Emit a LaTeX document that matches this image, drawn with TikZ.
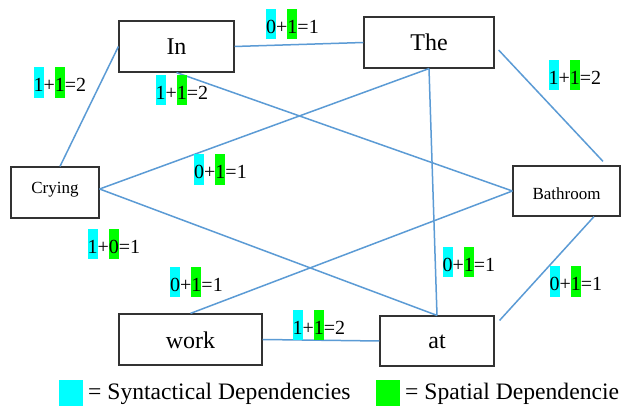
\documentclass[tikz,border=0pt]{standalone}
\usepackage{fontspec}
\setmainfont{Liberation Serif}
\usetikzlibrary{calc}
\definecolor{edgeblue}{RGB}{91,155,213}
\definecolor{boxgray}{RGB}{50,50,50}
\definecolor{hlcyan}{RGB}{0,255,255}
\definecolor{hlgreen}{RGB}{0,255,0}
\newcommand\hlbox[2]{{\setlength\fboxsep{0pt}\colorbox{#1}{\rule[-5.7pt]{0pt}{30.3pt}#2}}}
\newcommand\deplab[3]{\hlbox{hlcyan}{#1}+\hlbox{hlgreen}{#2}=#3}
\begin{document}
\begin{tikzpicture}[x=1pt,y=1pt,
  wordbox/.style={draw=boxgray,line width=1.2pt,rectangle,inner sep=0pt,text depth=0pt},
  bigword/.style={wordbox,font=\fontsize{24}{28}\selectfont},
  smallword/.style={wordbox,font=\fontsize{17}{20}\selectfont},
  link/.style={draw=edgeblue,line width=1.5pt},
  deplabel/.style={anchor=base west,inner sep=0pt,font=\fontsize{20}{24}\selectfont},
  legendtext/.style={anchor=base west,inner sep=0pt,font=\fontsize{23.6}{27}\selectfont}]
\useasboundingbox (0,0) rectangle (621,406);
\fill[white] (0,0) rectangle (621,406);
\clip (0,0) rectangle (621,406);

% word boxes
\node[bigword,minimum width=115pt,minimum height=51pt,text height=17pt] (In) at (176.5,359.5) {In};
\node[bigword,minimum width=130pt,minimum height=51pt,text height=17pt] (The) at (429,363.5) {The};
\node[smallword,minimum width=88pt,minimum height=51pt,text height=1.6pt] (Crying) at (55,213.5) {Crying};
\node[smallword,minimum width=107pt,minimum height=50pt,text height=18pt] (Bathroom) at (566.5,215) {Bathroom};
\node[bigword,minimum width=143pt,minimum height=51pt,text height=17.6pt] (work) at (190.5,66.5) {work};
\node[bigword,minimum width=114pt,minimum height=50pt,text height=14.6pt] (at) at (437,65) {at};

\coordinate (cr) at ([yshift=3.5pt]Crying.east);
\coordinate (theR) at ([shift={(4pt,-7.5pt)}]The.east);
\coordinate (bathT) at ([shift={(36.5pt,4pt)}]Bathroom.north);
\coordinate (atR) at ([shift={(5pt,-5pt)}]at.north east);
\coordinate (bathB) at ([xshift=27.5pt]Bathroom.south);

% connectors
\draw[link] (In.east) -- (The.west);
\draw[link] (In.west) -- ([xshift=5pt]Crying.north);
\draw[link] (In.south) -- (Bathroom.west);
\draw[link] (The.south) -- (cr);
\draw[link] (The.south) -- (at.north);
\draw[link] (theR) -- (bathT);
\draw[link] (cr) -- (at.north);
\draw[link] (work.north) -- (Bathroom.west);
\draw[link] (work.east) -- (at.west);
\draw[link] (atR) -- (bathB);

% dependency labels
\node[deplabel] (l1) at (266,372.4) {\deplab{0}{1}{1}};
\node[deplabel] (l2) at (33.3,314) {\deplab{1}{1}{2}};
\node[deplabel] (l3) at (155.3,306.7) {\deplab{1}{1}{2}};
\node[deplabel] (l4) at (194,227) {\deplab{0}{1}{1}};
\node[deplabel] (l5) at (548.3,321.7) {\deplab{1}{1}{2}};
\node[deplabel] (l6) at (87.3,152.7) {\deplab{1}{0}{1}};
\node[deplabel] (l7) at (170,114.7) {\deplab{0}{1}{1}};
\node[deplabel] (l8) at (292.3,71.7) {\deplab{1}{1}{2}};
\node[deplabel] (l9) at (442.3,134.7) {\deplab{0}{1}{1}};
\node[deplabel] (l10) at (549.3,115) {\deplab{0}{1}{1}};

% legend
\fill[hlcyan] (59,0) rectangle (83.3,26);
\node[legendtext] (leg1) at (88,6) {= Syntactical Dependencies};
\fill[hlgreen] (376,0) rectangle (400,26);
\node[legendtext] (leg2) at (405,6) {= Spatial Dependencie};
\end{tikzpicture}
\end{document}
